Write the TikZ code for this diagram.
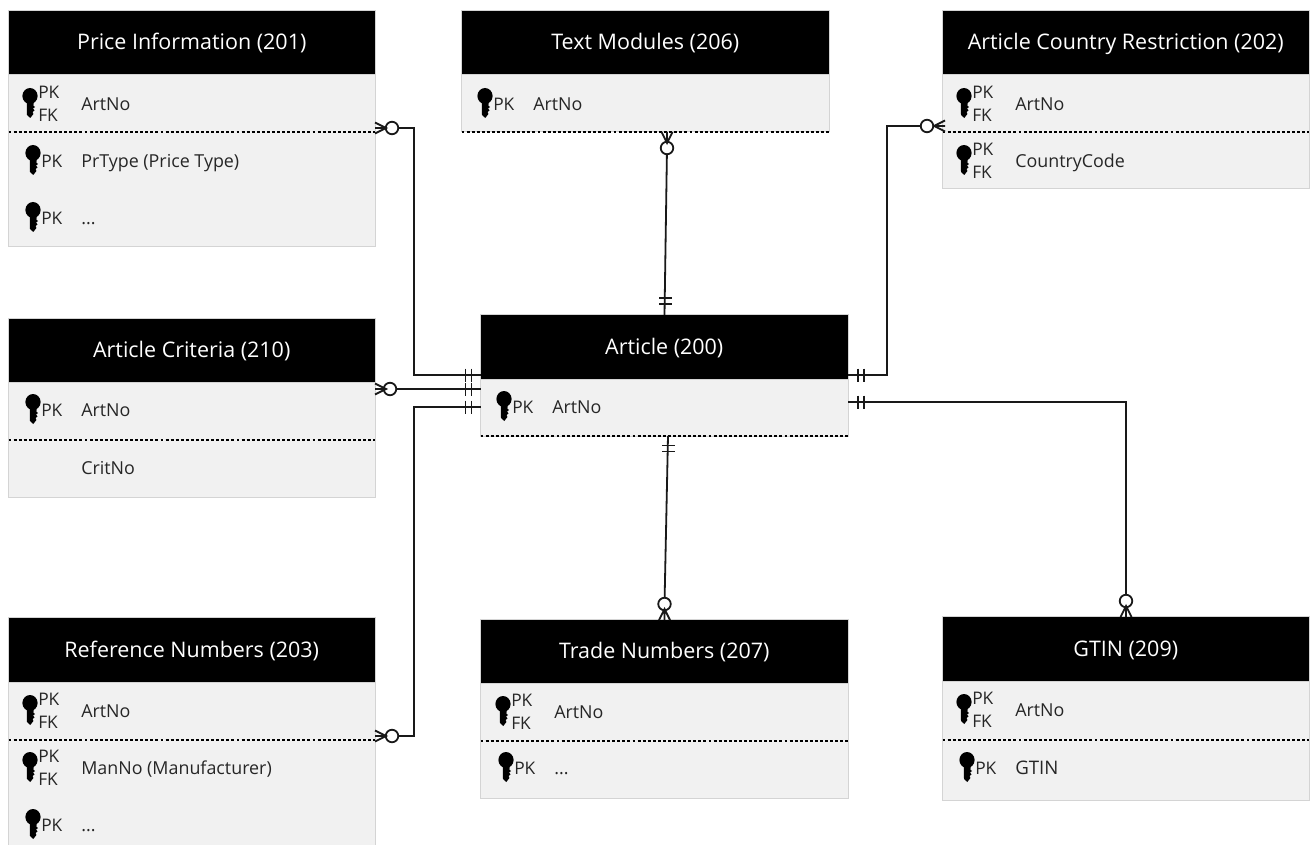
\documentclass[tikz,border=0pt]{standalone}
\usepackage{fontspec}
\setmainfont{Open Sans}
\definecolor{bodyfill}{HTML}{F1F1F1}
\definecolor{edgegray}{HTML}{D4D4D4}
\definecolor{txt}{HTML}{262626}
\tikzset{
 hdr/.style={fill=black,draw=edgegray,line width=0.6pt,inner sep=0pt,outer sep=0pt,text=white,text height=11.5pt,text depth=0pt,font=\fontsize{16.1}{19}\selectfont},
 bodybox/.style={fill=bodyfill,draw=edgegray,line width=0.75pt,inner sep=0pt,outer sep=0pt},
 sep/.style={line width=1.1pt,dash pattern=on 2.2pt off 1.6pt},
 field/.style={anchor=west,inner sep=0pt,text=txt,text height=9.5pt,text depth=0pt,font=\fontsize{13.4}{15}\selectfont},
 keytag/.style={anchor=west,inner sep=0pt,text=txt,text height=9.5pt,text depth=0pt,font=\fontsize{13}{15}\selectfont},
 link/.style={line width=1.35pt,draw=black!90},
 ring/.style={circle,draw=black!90,fill=white,line width=1.35pt,minimum size=9.4pt,inner sep=0pt,outer sep=0pt},
}
% name, x1, x2, y-top, y-header-bottom, y-dashed, y-bottom, title
\newcommand{\tbl}[8]{%
 \node[bodybox,minimum width={(#3-#2)*0.75pt},minimum height={(#7-#5)*0.75pt}] (#1b) at ({(#2+#3)/2},{(#5+#7)/2}) {};
 \node[hdr,minimum width={(#3-#2)*0.75pt},minimum height={(#5-#4)*0.75pt}] (#1h) at ({(#2+#3)/2},{(#4+#5)/2}) {#8};
 \draw[sep] (#2,#6) -- (#3,#6);
}
\newcommand{\keyicon}[2]{%
 \begin{scope}[shift={(#1,#2)}]
  \fill[black] (0,0) ellipse [x radius=7.6,y radius=8];
  \fill[black] (-4,4) -- (4,4) -- (3.4,9.5) -- (5,11) -- (3,12.6) -- (4.6,14.4) -- (2.6,16) -- (3.4,18) -- (0.3,22) -- (-3,19) -- (-3.2,4) -- cycle;
 \end{scope}}
% single PK row: node-id, x of key, y of text centre, field text
\newcommand{\pkrow}[4]{%
 \keyicon{#2}{\numexpr#3-8\relax}
 \node[keytag] (#1k) at (#2+8,#3) {PK};
 \node[field] (#1f) at (#2+48,#3) {#4};
}
% PK/FK row
\newcommand{\pkfkrow}[4]{%
 \keyicon{#2}{\numexpr#3-8\relax}
 \node[keytag] (#1k) at (#2+8,#3-12) {PK};
 \node[keytag] (#1l) at (#2+8,#3+11) {FK};
 \node[field] (#1f) at (#2+51,#3) {#4};
}
\newcommand{\crowfoot}[3]{% apex x, y, angle (points from apex to table)
 \begin{scope}[shift={(#1,#2)},rotate=#3]
  \draw[link] (11,-5.5) -- (0,0) -- (11,5.5) (0,0) -- (11,0);
 \end{scope}}
\newcommand{\bars}[3]{%
 \begin{scope}[shift={(#1,#2)},rotate=#3]
  \draw[link] (0,-6.5) -- (0,6.5) (6,-6.5) -- (6,6.5);
 \end{scope}}
\begin{document}
\begin{tikzpicture}[x=0.75pt,y=-0.75pt]
\useasboundingbox (0,0) rectangle (1314,845);
\fill[white] (0,0) rectangle (1314,845);

\tbl{price}{8.5}{375}{10.5}{74}{132}{246}{Price Information (201)}
\pkfkrow{pa}{30}{104}{ArtNo}
\pkrow{pb}{33}{161}{PrType (Price Type)}
\pkrow{pc}{33}{218}{...}

\tbl{text}{461.5}{829}{10.5}{74}{132}{132}{Text Modules (206)}
\pkrow{ta}{485}{104}{ArtNo}

\tbl{country}{942.5}{1309}{10.5}{74}{132}{189}{Article Country Restriction (202)}
\pkfkrow{ca}{964}{104}{ArtNo}
\pkfkrow{cb}{964}{161}{CountryCode}

\tbl{crit}{8.5}{375}{318.5}{382}{440}{497}{Article Criteria (210)}
\pkrow{ka}{33}{410}{ArtNo}
\node[field] (kb) at (81,468) {CritNo};

\tbl{art}{480.5}{848}{314.5}{379}{436}{436}{Article (200)}
\pkrow{aa}{504}{407}{ArtNo}

\tbl{ref}{8.5}{375}{617.5}{682}{740}{846}{Reference Numbers (203)}
\pkfkrow{ra}{30}{711}{ArtNo}
\pkfkrow{rb}{30}{768}{ManNo (Manufacturer)}
\pkrow{rc}{33}{825}{...}

\tbl{trade}{480.5}{848}{619.5}{683}{741}{798}{Trade Numbers (207)}
\pkfkrow{da}{503}{712}{ArtNo}
\pkrow{db}{506}{768}{...}

\tbl{gtin}{942.5}{1309}{616.5}{681}{740}{800}{GTIN (209)}
\pkfkrow{ga}{964}{710}{ArtNo}
\keyicon{967}{760}
\node[keytag] (gbk) at (975,768) {PK};
\node[field,font=\fontsize{14}{16}\selectfont] (gbf) at (1015,768) {GTIN};

% connector end points
\coordinate (e1) at (481,375);
\coordinate (e2) at (481,389);
\coordinate (e3) at (481,407);
\coordinate (e4) at (664.5,315);
\coordinate (e5) at (848,375);
\coordinate (e6) at (848,402);
\coordinate (e7) at (668,436);

% rings
\node[ring] (r1) at (392,128) {};
\node[ring] (r2) at (390,389) {};
\node[ring] (r3) at (392,736) {};
\node[ring] (r4) at (667,148) {};
\node[ring] (r5) at (927,126) {};
\node[ring] (r6) at (1126,601) {};
\node[ring] (r7) at (664.5,604) {};

% connectors
\draw[link] (r1) -- (414,128) -- (414,375) -- (e1);
\draw[link] (r2) -- (e2);
\draw[link] (r3) -- (414,736) -- (414,407) -- (e3);
\draw[link] (r4) -- (e4);
\draw[link] (r5) -- (887,126) -- (887,375) -- (e5);
\draw[link] (e6) -- (1126,402) -- (r6);
\draw[link] (e7) -- (r7);

% crow's feet
\crowfoot{386}{128}{180}
\crowfoot{386}{389}{180}
\crowfoot{386}{736}{180}
\crowfoot{667}{143}{90}
\crowfoot{934}{126}{0}
\crowfoot{1126}{606}{270}
\crowfoot{664.5}{609}{270}

% one-only bars
\bars{465.5}{375}{0}
\bars{465.5}{389}{0}
\bars{465.5}{407}{0}
\bars{665}{298}{270}
\bars{858}{375}{0}
\bars{858}{402}{0}
\bars{668}{445.5}{270}
\end{tikzpicture}
\end{document}
